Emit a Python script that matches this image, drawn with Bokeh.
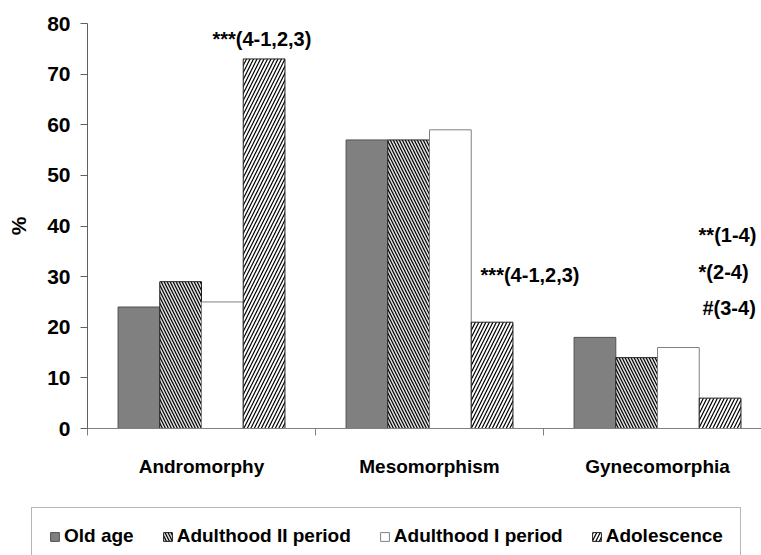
from bokeh.plotting import figure
from bokeh.models import Range1d, FixedTicker, Legend, LegendItem, ColumnDataSource
from bokeh.core.properties import value
from bokeh.embed import file_html
from bokeh.resources import INLINE

# ---- data ----
categories = ["Andromorphy", "Mesomorphism", "Gynecomorphia"]
series = ["Old age", "Adulthood II period", "Adulthood I period", "Adolescence"]
old_age = [24, 57, 18]
adulthood_2 = [29, 57, 14]
adulthood_1 = [25, 59, 16]
adolescence = [73, 21, 6]
y_ticks = [0, 10, 20, 30, 40, 50, 60, 70, 80]

notes = ["***(4-1,2,3)", "***(4-1,2,3)", "**(1-4)", "*(2-4)", "#(3-4)"]
note_x = [0.548, 1.724, 2.680, 2.680, 2.697]
note_y = [77.0, 30.4, 38.3, 31.0, 23.9]

values = [old_age, adulthood_2, adulthood_1, adolescence]

FONT = "Liberation Sans"
BAR_W = 0.183

styles = [
    dict(fill_color="#808080", line_color="#505050"),
    dict(fill_color="#e0e0e0", hatch_pattern="\\", hatch_color="black",
         hatch_scale=6, hatch_weight=1.2, line_color="#202020"),
    dict(fill_color="white", line_color="#808080"),
    dict(fill_color="white", hatch_pattern="/", hatch_color="black",
         hatch_scale=7, hatch_weight=1.2, line_color="#202020"),
]

p = figure(width=761, height=505, output_backend="svg", toolbar_location=None,
           x_range=Range1d(0, 2.956), y_range=Range1d(0, 80),
           min_border_left=87, min_border_right=0, min_border_top=23,
           min_border_bottom=77)
p.outline_line_color = None
p.xgrid.visible = False
p.ygrid.visible = False
p.background_fill_color = "white"
p.border_fill_color = "white"

sources = []
for i, (name, vals, st) in enumerate(zip(series, values, styles)):
    xs = [k + 0.5 + (i - 1.5) * BAR_W for k in range(len(categories))]
    src = ColumnDataSource(dict(x=xs, top=vals))
    sources.append(src)
    p.vbar(x="x", top="top", bottom=0, width=BAR_W, source=src,
           line_width=1, **st)

# annotations
nsrc = ColumnDataSource(dict(x=note_x, y=note_y, t=notes))
p.text(x="x", y="y", text="t", source=nsrc, text_font=value(FONT),
       text_font_style="bold", text_font_size="20px", text_align="left",
       text_baseline="middle", text_color="black")

# y axis
yax = p.yaxis[0]
yax.ticker = FixedTicker(ticks=y_ticks)
yax.major_tick_out = 7
yax.major_tick_in = 0
yax.minor_tick_out = 0
yax.minor_tick_in = 0
yax.major_label_standoff = 10
yax.major_label_text_font = FONT
yax.major_label_text_font_style = "bold"
yax.major_label_text_font_size = "21px"
yax.major_label_text_color = "black"
yax.axis_line_color = "#606060"
yax.major_tick_line_color = "#606060"
yax.axis_label = "%"
yax.axis_label_text_font = FONT
yax.axis_label_text_font_style = "bold"
yax.axis_label_text_font_size = "21px"
yax.axis_label_text_color = "black"
yax.axis_label_standoff = 14

# x axis
xax = p.xaxis[0]
xax.ticker = FixedTicker(ticks=[k + 0.5 for k in range(len(categories))],
                         minor_ticks=[k for k in range(len(categories))])
xax.major_label_overrides = {k + 0.5: c for k, c in enumerate(categories)}
xax.major_tick_out = 0
xax.major_tick_in = 0
xax.minor_tick_out = 7
xax.minor_tick_in = 0
xax.major_label_standoff = 20
xax.major_label_text_font = FONT
xax.major_label_text_font_style = "bold"
xax.major_label_text_font_size = "19px"
xax.major_label_text_color = "black"
xax.axis_line_color = "#808080"
xax.minor_tick_line_color = "#808080"

# legend strip: a second figure below the chart; its bars share the data
# but lie entirely outside its view, only the legend is visible
p2 = figure(width=761, height=50, output_backend="svg", toolbar_location=None,
            x_range=Range1d(0, 2.956), y_range=Range1d(500, 501),
            x_axis_type=None, y_axis_type=None,
            min_border_left=0, min_border_right=0, min_border_top=0,
            min_border_bottom=0)
p2.outline_line_color = None
p2.xgrid.visible = False
p2.ygrid.visible = False
p2.background_fill_color = "white"
p2.border_fill_color = "white"
proxies = []
for src, st in zip(sources, styles):
    proxies.append(p2.vbar(x="x", top="top", bottom=0, width=BAR_W, source=src,
                           line_width=1, **st))

legend = Legend(items=[LegendItem(label=s, renderers=[r]) for s, r in zip(series, proxies)],
                location=(31, -10), orientation="horizontal")
legend.padding = 17
legend.spacing = 28
legend.margin = 0
legend.glyph_width = 11
legend.glyph_height = 11
legend.label_standoff = 4
legend.label_text_font = FONT
legend.label_text_font_style = "bold"
legend.label_text_font_size = "19px"
legend.label_text_color = "black"
legend.border_line_color = "#707070"
legend.border_line_width = 1
legend.background_fill_color = "white"
legend.background_fill_alpha = 1
p2.add_layout(legend)

open("out.html", "w").write(file_html([p, p2], INLINE))
